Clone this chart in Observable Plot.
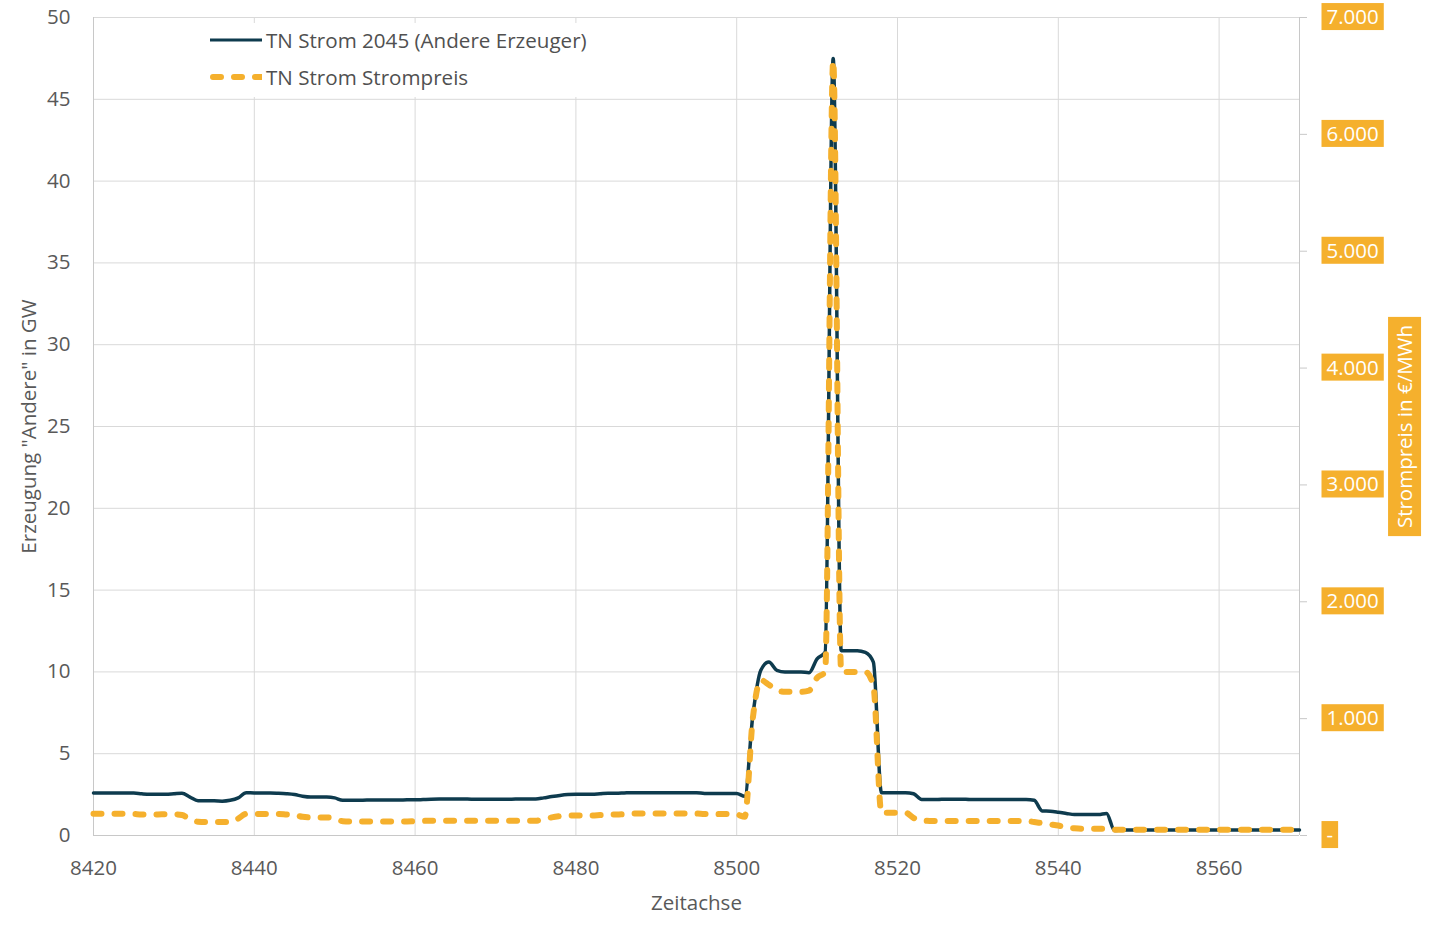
<!DOCTYPE html>
<html><head><meta charset="utf-8">
<script src="https://cdn.jsdelivr.net/npm/d3@7"></script>
<script src="https://cdn.jsdelivr.net/npm/@observablehq/plot@0.6"></script>
<style>
body{margin:0;background:#fff;font-family:"Open Sans",sans-serif}
#wrap{position:relative;width:1440px;height:927px;overflow:hidden}
#legend{position:absolute;left:202px;top:23px;width:400px;height:74px;background:#fff;font-family:"Open Sans",sans-serif;font-size:20.6px;color:#505050}
.row{position:absolute;left:0;height:30px;display:flex;align-items:center;white-space:nowrap}
.row svg{margin-left:8px;margin-right:4px}
</style></head><body><div id="wrap"></div>
<script>
// ---- data (hour of year 8420..8570) ----
const startHour = 8420;
const generation = [ // GW, "Andere Erzeuger"
  2.6, 2.6, 2.6, 2.6, 2.6, 2.6, 2.55, 2.52, 2.52, 2.52,
  2.55, 2.58, 2.35, 2.12, 2.12, 2.12, 2.1, 2.15, 2.3, 2.62,
  2.6, 2.6, 2.6, 2.58, 2.55, 2.5, 2.4, 2.35, 2.35, 2.35,
  2.3, 2.15, 2.15, 2.15, 2.17, 2.17, 2.17, 2.17, 2.17, 2.18,
  2.18, 2.2, 2.22, 2.23, 2.23, 2.23, 2.23, 2.22, 2.22, 2.22,
  2.22, 2.22, 2.22, 2.23, 2.23, 2.23, 2.3, 2.38, 2.45, 2.5,
  2.52, 2.52, 2.52, 2.55, 2.58, 2.58, 2.6, 2.62, 2.62, 2.62,
  2.62, 2.62, 2.62, 2.62, 2.62, 2.62, 2.57, 2.57, 2.56, 2.56,
  2.57, 2.4, 7.3, 10.1, 10.6, 10.1, 10.0, 10.0, 10.0, 9.95,
  10.8, 11.2, 47.5, 11.3, 11.3, 11.3, 11.2, 10.6, 2.62, 2.62,
  2.62, 2.62, 2.55, 2.2, 2.2, 2.2, 2.22, 2.22, 2.22, 2.2,
  2.2, 2.2, 2.2, 2.2, 2.2, 2.2, 2.2, 2.15, 1.5, 1.48,
  1.42, 1.35, 1.28, 1.28, 1.28, 1.28, 1.35, 0.3, 0.33, 0.33,
  0.33, 0.33, 0.33, 0.33, 0.33, 0.33, 0.33, 0.33, 0.33, 0.33,
  0.33, 0.33, 0.33, 0.33, 0.33, 0.33, 0.33, 0.33, 0.33, 0.33,
  0.33
];
const price = [ // €/MWh
  186, 186, 186, 186, 186, 184, 180, 180, 180, 182,
  182, 175, 140, 118, 115, 115, 115, 115, 145, 185,
  185, 185, 185, 185, 180, 175, 160, 155, 155, 155,
  145, 122, 120, 120, 120, 120, 120, 120, 120, 120,
  122, 125, 127, 127, 127, 127, 127, 127, 127, 127,
  127, 127, 127, 127, 127, 127, 140, 155, 165, 170,
  172, 172, 172, 175, 178, 180, 182, 188, 188, 188,
  188, 188, 188, 188, 188, 188, 185, 185, 183, 183,
  180, 160, 1000, 1330, 1290, 1240, 1230, 1230, 1230, 1240,
  1350, 1400, 6630, 1400, 1400, 1400, 1400, 1280, 195, 195,
  195, 195, 150, 128, 125, 125, 125, 125, 125, 125,
  125, 125, 125, 125, 125, 125, 125, 115, 105, 95,
  85, 70, 62, 58, 58, 58, 58, 50, 50, 50,
  50, 50, 50, 50, 50, 50, 50, 50, 50, 50,
  50, 50, 50, 50, 50, 50, 50, 50, 50, 50,
  50
];
const xTicks = [8420, 8440, 8460, 8480, 8500, 8520, 8540, 8560];
const yTicks = [0, 5, 10, 15, 20, 25, 30, 35, 40, 45, 50];
const priceTicks = [0, 1000, 2000, 3000, 4000, 5000, 6000, 7000];
const seriesNames = ["TN Strom 2045 (Andere Erzeuger)", "TN Strom Strompreis"];
const yLabel = 'Erzeugung "Andere" in GW';
const y2Label = "Strompreis in €/MWh";
const xLabel = "Zeitachse";

const navy = "#0E3B4E", orange = "#F5B02D", boxText = "#fffffe", titleText = "#fffffd";
const yMax = 50, pMax = 7000, ratio = yMax / pMax;
const de = d3.formatLocale({decimal: ",", thousands: ".", grouping: [3], currency: ["", "€"]});
const fmtP = p => p === 0 ? "-" : de.format(",")(p);
const fs = 20.5;

const genData = generation.map((v, i) => ({h: startHour + i, v}));
const priceData = price.map((v, i) => ({h: startHour + i, v: v * ratio}));

const chart = Plot.plot({
  width: 1440, height: 927,
  marginLeft: 93, marginRight: 141, marginTop: 17, marginBottom: 92,
  style: {fontFamily: "Open Sans, sans-serif", fontSize: fs + "px", color: "#595959", background: "#fff"},
  x: {domain: [startHour, startHour + generation.length - 1]},
  y: {domain: [0, yMax]},
  marks: [
    Plot.gridY(yTicks, {stroke: "#d9d9d9", strokeOpacity: 1}),
    Plot.gridX(xTicks, {stroke: "#d9d9d9", strokeOpacity: 1}),
    Plot.ruleX([startHour, startHour + generation.length - 1], {stroke: "#c8c8c8"}),
    Plot.ruleY([0], {stroke: "#c8c8c8"}),
    Plot.axisY(yTicks, {anchor: "left", tickSize: 0, tickPadding: 23, label: null, fill: "#595959", fontSize: fs}),
    Plot.axisX(xTicks, {anchor: "bottom", tickSize: 0, tickPadding: 25, label: null, fill: "#595959", fontSize: fs, tickFormat: d => String(d)}),
    Plot.axisY(priceTicks.map(p => p * ratio), {anchor: "right", tickSize: 7, stroke: "#c8c8c8", text: null, label: null}),
    Plot.text(priceTicks, {frameAnchor: "right", y: p => p * ratio, text: fmtP, dx: 27, textAnchor: "start", lineAnchor: "middle", fill: boxText, fontSize: fs}),
    Plot.text([y2Label], {frameAnchor: "right", dx: 106, rotate: -90, textAnchor: "middle", lineAnchor: "middle", fill: titleText, fontSize: fs}),
    Plot.text([yLabel], {frameAnchor: "left", dx: -64, rotate: -90, textAnchor: "middle", lineAnchor: "middle", fill: "#595959", fontSize: fs}),
    Plot.text([xLabel], {frameAnchor: "bottom", dy: 68, textAnchor: "middle", lineAnchor: "middle", fill: "#595959", fontSize: fs}),
    Plot.line(genData, {x: "h", y: "v", stroke: navy, strokeWidth: 3.5, curve: "monotone-x"}),
    Plot.line(priceData, {x: "h", y: "v", stroke: orange, strokeWidth: 6, strokeDasharray: "8,13", strokeLinecap: "round", curve: "monotone-x"})
  ]
});
const wrap = document.getElementById("wrap");
wrap.appendChild(chart);

// orange boxes behind the price-axis labels and title
const svgNS = "http://www.w3.org/2000/svg";
function boxBehind(color, padX, padY) {
  Array.from(chart.querySelectorAll("text")).filter(t => {
    const g = t.closest("g");
    return (g && g.getAttribute("fill") === color) || t.getAttribute("fill") === color;
  }).forEach(t => {
    const b = t.getBBox();
    const r = document.createElementNS(svgNS, "rect");
    r.setAttribute("x", b.x - padX);
    r.setAttribute("y", b.y + 1 - padY);
    r.setAttribute("width", b.width + 2 * padX);
    r.setAttribute("height", b.height - 1 + 2 * padY);
    r.setAttribute("fill", orange);
    if (t.getAttribute("transform")) r.setAttribute("transform", t.getAttribute("transform"));
    t.parentNode.insertBefore(r, t);
  });
}
boxBehind(boxText, 5, 0);
boxBehind(titleText, 8, 3);

// legend
const lg = document.createElement("div");
lg.id = "legend";
lg.innerHTML =
  `<div class="row" style="top:2px"><svg width="52" height="10"><line x1="0" x2="52" y1="5" y2="5" stroke="${navy}" stroke-width="3"/></svg>${seriesNames[0]}</div>` +
  `<div class="row" style="top:39px"><svg width="52" height="10"><line x1="3" x2="52" y1="5" y2="5" stroke="${orange}" stroke-width="6" stroke-linecap="round" stroke-dasharray="8,13"/></svg>${seriesNames[1]}</div>`;
wrap.appendChild(lg);
</script></body></html>
